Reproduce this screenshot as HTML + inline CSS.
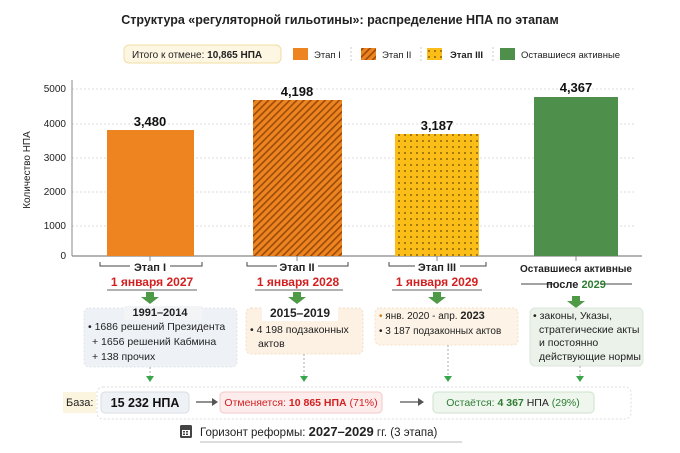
<!DOCTYPE html><html><head><meta charset="utf-8"><style>
body{margin:0;background:#fff;}
svg{display:block;font-family:"Liberation Sans","DejaVu Sans",sans-serif;}
</style></head><body>
<svg width="680" height="453" viewBox="0 0 680 453" xmlns="http://www.w3.org/2000/svg">
<defs>
<pattern id="hatch" width="5" height="5" patternUnits="userSpaceOnUse" patternTransform="rotate(45)">
<rect width="5" height="5" fill="#ee8420"/><rect width="1.6" height="5" fill="#9a4b0a"/></pattern>
<pattern id="dots" width="6" height="6" patternUnits="userSpaceOnUse">
<rect width="6" height="6" fill="#fbbd18"/><circle cx="3" cy="3" r="0.9" fill="#6b4a06"/></pattern>
</defs>
<rect width="680" height="453" fill="#fff"/>
<text x="340" y="24" font-size="12.5" font-weight="bold" text-anchor="middle" fill="#222">Структура «регуляторной гильотины»: распределение НПА по этапам</text>
<rect x="124" y="45" width="157" height="18" rx="5" fill="#fdf6e3" stroke="#f1dca0"/>
<text x="132" y="58" font-size="10" fill="#222">Итого к отмене: <tspan font-weight="bold">10,865 НПА</tspan></text>
<rect x="293" y="48" width="15" height="12" fill="#ee8420"/><text x="314" y="58" font-size="9.5" fill="#222">Этап I</text>
<line x1="351" y1="47" x2="351" y2="61" stroke="#ccc" stroke-dasharray="2 2"/>
<rect x="361" y="48" width="15" height="12" fill="url(#hatch)"/><text x="382" y="58" font-size="9.5" fill="#222">Этап II</text>
<line x1="421" y1="47" x2="421" y2="61" stroke="#ccc" stroke-dasharray="2 2"/>
<rect x="427" y="48" width="15" height="12" fill="url(#dots)"/><text x="450" y="58" font-size="9.5" font-weight="bold" fill="#222">Этап III</text>
<line x1="493" y1="47" x2="493" y2="61" stroke="#ccc" stroke-dasharray="2 2"/>
<rect x="500" y="48" width="15" height="12" fill="#4e8f4b"/><text x="521" y="58" font-size="9.5" fill="#222">Оставшиеся активные</text>
<g stroke="#ddd" stroke-dasharray="2 2">
<line x1="72" y1="89" x2="635" y2="89"/><line x1="72" y1="124" x2="635" y2="124"/><line x1="72" y1="158" x2="635" y2="158"/><line x1="72" y1="192" x2="635" y2="192"/><line x1="72" y1="226" x2="635" y2="226"/></g>
<g font-size="10" fill="#222" text-anchor="end">
<text x="66" y="92">5000</text><text x="66" y="127">4000</text><text x="66" y="161">3000</text><text x="66" y="195">2000</text><text x="66" y="229">1000</text><text x="66" y="259">0</text></g>
<text transform="translate(30,170) rotate(-90)" font-size="10" text-anchor="middle" fill="#222">Количество НПА</text>
<line x1="72" y1="80" x2="72" y2="256" stroke="#888"/>
<line x1="72" y1="256" x2="642" y2="256" stroke="#888" stroke-width="1.2"/>
<rect x="107" y="130" width="87" height="126" fill="#ee8420"/>
<rect x="253" y="100" width="89" height="156" fill="url(#hatch)"/>
<rect x="395" y="134" width="84" height="122" fill="url(#dots)"/>
<rect x="534" y="97" width="84" height="159" fill="#4e8f4b"/>
<g font-size="13" font-weight="bold" text-anchor="middle" fill="#111">
<text x="150" y="126">3,480</text><text x="297" y="96">4,198</text><text x="437" y="130">3,187</text><text x="576" y="92">4,367</text></g>
<g stroke="#888"><line x1="150" y1="256" x2="150" y2="261"/><line x1="297" y1="256" x2="297" y2="261"/><line x1="437" y1="256" x2="437" y2="261"/><line x1="576" y1="256" x2="576" y2="261"/></g>
<g fill="none" stroke="#444" stroke-width="1">
<path d="M100,262 v4 h30 M170,266 h32 v-4"/>
<path d="M247,262 v4 h30 M318,266 h30 v-4"/>
<path d="M389,262 v4 h26 M460,266 h26 v-4"/>
<path d="M521,284 h34 M600,284 h32"/>
</g>
<g font-size="11" font-weight="bold" text-anchor="middle" fill="#222">
<text x="150" y="271">Этап I</text><text x="297" y="271">Этап II</text><text x="437" y="271">Этап III</text>
<text x="576" y="272" font-size="10">Оставшиеся активные</text>
<text x="576" y="288">после <tspan fill="#2e7d32">2029</tspan></text></g>
<g font-size="12" font-weight="bold" text-anchor="middle" fill="#d32020">
<text x="152" y="286">1 января 2027</text><text x="298" y="286">1 января 2028</text><text x="437" y="286">1 января 2029</text></g>
<g stroke="#666"><line x1="107" y1="290" x2="197" y2="290"/><line x1="255" y1="290" x2="343" y2="290"/><line x1="392" y1="290" x2="482" y2="290"/></g>
<g fill="#4e9a47">
<path d="M146,292 h8 v5 h5 l-9,7 l-9,-7 h5z"/><path d="M293,292 h8 v5 h5 l-9,7 l-9,-7 h5z"/>
<path d="M433,292 h8 v5 h5 l-9,7 l-9,-7 h5z"/><path d="M572,296 h8 v5 h5 l-9,7 l-9,-7 h5z"/></g>
<rect x="84" y="308" width="153" height="59" rx="5" fill="#eef2f7" stroke="#dfe4ea" stroke-dasharray="2 2"/>
<rect x="246" y="308" width="117" height="46" rx="5" fill="#fdf1e4" stroke="#f1dfc8" stroke-dasharray="2 2"/>
<rect x="375" y="308" width="143" height="37" rx="5" fill="#fdf3e6" stroke="#f3e0c6" stroke-dasharray="2 2"/>
<rect x="530" y="308" width="113" height="58" rx="5" fill="#eaf2ea" stroke="#dbe7db"/>
<rect x="124" y="306" width="78" height="14" fill="#f2f4f6"/>
<rect x="262" y="306" width="76" height="15" fill="#fff"/>
<g font-size="10.5" fill="#222">
<text x="160" y="316" text-anchor="middle" font-weight="bold" font-size="11">1991–2014</text>
<text x="88" y="330">• 1686 решений Президента</text>
<text x="92" y="345">+ 1656 решений Кабмина</text>
<text x="92" y="360">+ 138 прочих</text>
<text x="300" y="317" text-anchor="middle" font-weight="bold" font-size="12">2015–2019</text>
<text x="250" y="333">• 4 198 подзаконных</text><text x="258" y="347">актов</text>
<text x="379" y="319" font-size="10"><tspan fill="#c9801a">•</tspan> янв. 2020 - апр. <tspan font-weight="bold" font-size="11">2023</tspan></text>
<text x="379" y="334" font-size="10">• 3 187 подзаконных актов</text>
<text x="533" y="319">• законы, Указы,</text>
<text x="539" y="333">стратегические акты</text>
<text x="539" y="346">и постоянно</text>
<text x="539" y="360">действующие нормы</text></g>
<g stroke="#aaa" stroke-dasharray="2 2"><line x1="150" y1="367" x2="150" y2="376"/><line x1="304" y1="354" x2="304" y2="376"/><line x1="448" y1="345" x2="448" y2="376"/><line x1="580" y1="366" x2="580" y2="376"/></g>
<g fill="#3aa54a"><path d="M146,376 h8 l-4,6z"/><path d="M300,376 h8 l-4,6z"/><path d="M444,376 h8 l-4,6z"/><path d="M576,376 h8 l-4,6z"/></g>
<rect x="63" y="392" width="33" height="21" fill="#fbf4df"/>
<text x="66" y="406" font-size="11" fill="#222">База:</text>
<rect x="97" y="387" width="534" height="32" rx="6" fill="#fff" stroke="#ddd" stroke-dasharray="2 2"/>
<rect x="101" y="392" width="88" height="21" rx="4" fill="#eef1f5" stroke="#d9dde3"/>
<text x="145" y="407" font-size="12.5" font-weight="bold" text-anchor="middle" fill="#111">15 232 НПА</text>
<path d="M196,402 h16" stroke="#555" stroke-width="1.3"/><path d="M212,398 l6,4 l-6,4z" fill="#555"/>
<rect x="220" y="392" width="162" height="21" rx="4" fill="#fdecec" stroke="#f3c7c7"/>
<text x="301" y="406" font-size="10.5" text-anchor="middle" fill="#d32020">Отменяется: <tspan font-weight="bold">10 865 НПА</tspan> (71%)</text>
<path d="M400,402 h18" stroke="#555" stroke-width="1.3"/><path d="M418,398 l6,4 l-6,4z" fill="#555"/>
<rect x="433" y="392" width="161" height="21" rx="4" fill="#eef6ee" stroke="#cfe2cf"/>
<text x="513" y="406" font-size="10.5" text-anchor="middle" fill="#2e7d32">Остаётся: <tspan font-weight="bold">4 367</tspan> <tspan fill="#222">НПА</tspan> (29%)</text>
<rect x="180" y="425" width="12" height="13" rx="1.5" fill="#444"/><rect x="182" y="430" width="8" height="6" fill="#fff"/>
<g fill="#444"><rect x="183" y="431" width="2" height="1.5"/><rect x="186" y="431" width="2" height="1.5"/><rect x="183" y="433.5" width="2" height="1.5"/><rect x="186" y="433.5" width="2" height="1.5"/></g>
<text x="200" y="436" font-size="11.5" fill="#222">Горизонт реформы: <tspan font-weight="bold" font-size="13">2027–2029</tspan> гг. (3 этапа)</text>
<line x1="200" y1="442" x2="462" y2="442" stroke="#bbb"/>
</svg>
</body></html>
